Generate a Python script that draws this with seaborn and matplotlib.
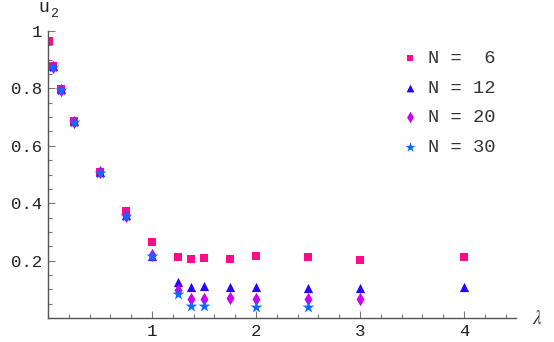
import matplotlib
matplotlib.use("Agg")
import matplotlib.pyplot as plt
import seaborn as sns
from matplotlib.ticker import MultipleLocator, FixedLocator

# values
lam_6 = [0.01, 0.05, 0.125, 0.25, 0.5, 0.75, 1.0, 1.25, 1.375, 1.5, 1.75, 2.0, 2.5, 3.0, 4.0]
u2_6 = [0.965, 0.878, 0.797, 0.685, 0.51, 0.373, 0.265, 0.214, 0.206, 0.208, 0.207, 0.216, 0.211, 0.203, 0.214]

lam_12 = [0.05, 0.125, 0.25, 0.5, 0.75, 1.0, 1.25, 1.375, 1.5, 1.75, 2.0, 2.5, 3.0, 4.0]
u2_12 = [0.878, 0.797, 0.685, 0.508, 0.358, 0.217, 0.125, 0.107, 0.111, 0.109, 0.109, 0.104, 0.104, 0.107]

lam_20 = [0.05, 0.125, 0.25, 0.5, 0.75, 1.0, 1.25, 1.375, 1.5, 1.75, 2.0, 2.5, 3.0]
u2_20 = [0.876, 0.795, 0.684, 0.507, 0.357, 0.218, 0.098, 0.065, 0.065, 0.068, 0.065, 0.065, 0.065]

lam_30 = [0.05, 0.125, 0.25, 0.5, 0.75, 1.0, 1.25, 1.375, 1.5, 2.0, 2.5]
u2_30 = [0.876, 0.795, 0.683, 0.506, 0.356, 0.215, 0.084, 0.043, 0.043, 0.037, 0.039]

labels = ["N =  6", "N = 12", "N = 20", "N = 30"]
x_ticks = [1, 2, 3, 4]
y_ticks = [0.2, 0.4, 0.6, 0.8, 1.0]
y_tick_labels = ["0.2", "0.4", "0.6", "0.8", "1"]

sns.set_style("ticks")
plt.rcParams["mathtext.fontset"] = "stix"
mono = "Liberation Mono"

fig = plt.figure(figsize=(5.54, 3.42), dpi=100)
ax = fig.add_axes([48 / 554, 24 / 342, 468 / 554, 287 / 342])

series = [
    (lam_6, u2_6, "s", "#ff0a8c", 34),
    (lam_12, u2_12, "^", "#2a00ff", 44),
    (lam_20, u2_20, "d", "#cc00f5", 46),
    (lam_30, u2_30, "*", "#0a6cff", 80),
]
for (xs, ys, mk, col, size), lab in zip(series, labels):
    sns.scatterplot(x=xs, y=ys, marker=mk, color=col, s=size, linewidth=0,
                    label=lab, ax=ax, legend=False)

ax.set_xlim(0, 4.5)
ax.set_ylim(0, 1.0)
sns.despine(ax=ax)
for side in ["left", "bottom"]:
    ax.spines[side].set_color("#555555")
    ax.spines[side].set_linewidth(1.0)

ax.xaxis.set_major_locator(FixedLocator(x_ticks))
ax.xaxis.set_minor_locator(MultipleLocator(0.2))
ax.yaxis.set_major_locator(FixedLocator(y_ticks))
ax.yaxis.set_minor_locator(MultipleLocator(0.05))
ax.set_yticklabels(y_tick_labels)
ax.tick_params(which="both", direction="in", color="#777777", width=0.8)
ax.tick_params(which="major", length=5, labelsize=12.5, pad=4)
ax.tick_params(which="minor", length=3)
for t in ax.get_xticklabels() + ax.get_yticklabels():
    t.set_family(mono)
    t.set_color("#222222")

ax.text(38, 330, "u", family=mono, fontsize=13, color="#222222",
        transform=None, ha="left", va="baseline")
ax.text(50, 325, "2", family=mono, fontsize=9.5, color="#222222",
        transform=None, ha="left", va="baseline")
ax.text(1.045, 0.0, r"$\lambda$", transform=ax.transAxes, fontsize=14,
        color="#333333", ha="center", va="center")

ax.legend(loc="upper left", bbox_to_anchor=((401 - 48) / 468, (318 - 50) / 287),
          frameon=False, borderpad=0, borderaxespad=0, handlelength=1.0,
          handletextpad=0.45, labelspacing=0.66, labelcolor="#333333",
          markerscale=0.85, prop={"family": mono, "size": 13.5})

fig.savefig("out.png", dpi=100)
